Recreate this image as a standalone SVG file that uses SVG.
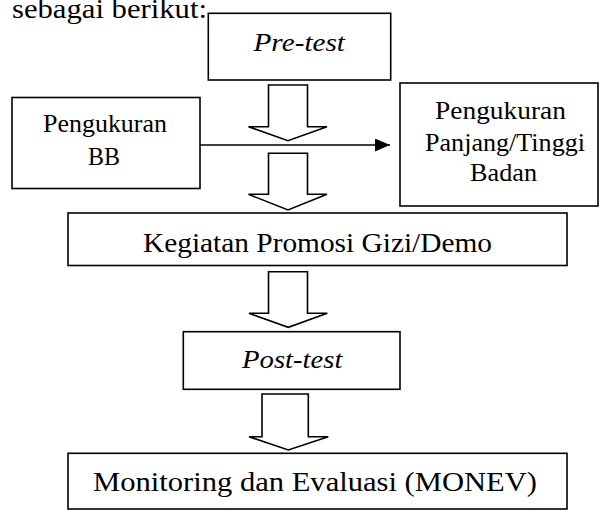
<svg xmlns="http://www.w3.org/2000/svg" width="600" height="515" viewBox="0 0 600 515">
  <defs>
    <style>
      .box { fill: #ffffff; stroke: #000000; stroke-width: 1.6; }
      .blk { fill: #ffffff; stroke: #000000; stroke-width: 1.6; stroke-linejoin: miter; }
      .t { font-family: "Liberation Serif", "Times New Roman", serif; font-size: 26px; fill: #000000; }
      .it { font-style: italic; }
      .ln { stroke: #000000; stroke-width: 1.4; fill: none; }
    </style>
    <marker id="ah" markerWidth="15" markerHeight="13" refX="15" refY="6.5" orient="auto" markerUnits="userSpaceOnUse">
      <path d="M0,0 L15,6.5 L0,13 Z" fill="#000000"/>
    </marker>
  </defs>
  <rect width="600" height="515" fill="#ffffff"/>

  <g id="intro">
    <text class="t" x="12" y="17.5" style="font-size:27px" textLength="195" lengthAdjust="spacingAndGlyphs">sebagai berikut:</text>
  </g>

  <g id="connectors">
    <path class="blk" d="M268.5,85 H307.5 V126.7 H327 L288,140.7 L248.5,126.7 H268.5 Z"/>
    <path class="blk" d="M268.5,153.3 H307.5 V194.3 H327 L288,210 L248.5,194.3 H268.5 Z"/>
    <path class="blk" d="M268.5,271.7 H307.5 V313.3 H327.3 L288.3,327.3 L249,313.3 H268.5 Z"/>
    <path class="blk" d="M262,394 H308.3 V436.7 H328.3 L288.3,450 L249,436.7 H262 Z"/>
    <line class="ln" x1="197" y1="145" x2="390" y2="145" marker-end="url(#ah)"/>
  </g>

  <g id="pretest">
    <rect class="box" x="208.3" y="13.3" width="182.4" height="66.7"/>
    <text class="t it" x="253.5" y="50.5" style="font-size:25px" textLength="91.5" lengthAdjust="spacingAndGlyphs">Pre-test</text>
  </g>

  <g id="pengukuran-bb">
    <rect class="box" x="12" y="97.5" width="188" height="91"/>
    <text class="t" x="43" y="132" textLength="124" lengthAdjust="spacingAndGlyphs">Pengukuran</text>
    <text class="t" x="88" y="164.5" textLength="32" lengthAdjust="spacingAndGlyphs">BB</text>
  </g>

  <g id="pengukuran-tb">
    <rect class="box" x="400" y="83" width="198" height="123"/>
    <text class="t" x="435" y="119.3" textLength="131" lengthAdjust="spacingAndGlyphs">Pengukuran</text>
    <text class="t" x="425" y="150.7" textLength="160" lengthAdjust="spacingAndGlyphs">Panjang/Tinggi</text>
    <text class="t" x="470" y="181" textLength="67" lengthAdjust="spacingAndGlyphs">Badan</text>
  </g>

  <g id="kegiatan">
    <rect class="box" x="68" y="213" width="499" height="52.5"/>
    <text class="t" x="143" y="252" style="font-size:28px" textLength="349" lengthAdjust="spacingAndGlyphs">Kegiatan Promosi Gizi/Demo</text>
  </g>

  <g id="posttest">
    <rect class="box" x="183.3" y="331.7" width="216.7" height="57.6"/>
    <text class="t it" x="242" y="368.3" style="font-size:25px" textLength="100.5" lengthAdjust="spacingAndGlyphs">Post-test</text>
  </g>

  <g id="monev">
    <rect class="box" x="68" y="453.3" width="499" height="55.7"/>
    <text class="t" x="93" y="491" style="font-size:27px" textLength="444" lengthAdjust="spacingAndGlyphs">Monitoring dan Evaluasi (MONEV)</text>
  </g>
</svg>
